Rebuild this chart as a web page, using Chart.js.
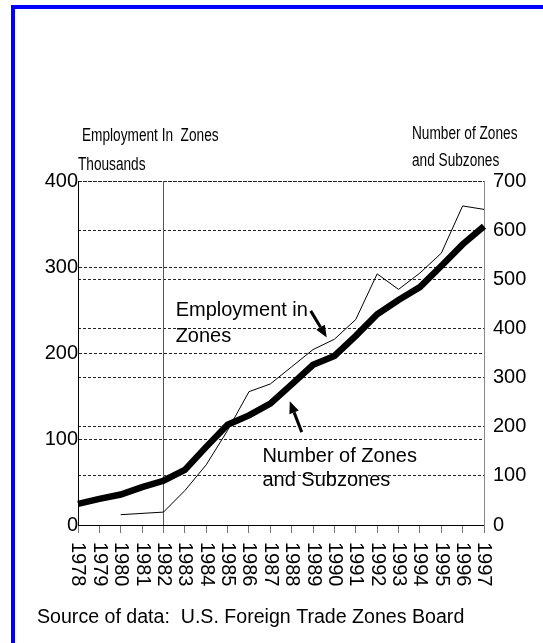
<!DOCTYPE html>
<html>
<head>
<meta charset="utf-8">
<style>
  html, body { margin: 0; padding: 0; background: #fff; overflow: hidden; }
  body { width: 543px; height: 643px; position: relative; }
  #frame { position: absolute; left: 11px; top: 5px; width: 620px; height: 720px;
           border-left: 4px solid #0000ff; border-top: 4px solid #0000ff; }
  #chart { position: absolute; left: 0; top: 0; }
</style>
</head>
<body>
<div id="frame"></div>
<canvas id="chart" width="543" height="643"></canvas>
<script src="https://cdn.jsdelivr.net/npm/chart.js@4/dist/chart.umd.min.js"></script>
<script>
// Data
const years = ['1978', '1979', '1980', '1981', '1982', '1983', '1984', '1985', '1986', '1987',
               '1988', '1989', '1990', '1991', '1992', '1993', '1994', '1995', '1996', '1997'];
// Employment in zones, thousands (left axis)
const employment = [null, null, 12, null, 15, 40, 70, 110, 155, 164,
                    184, 204, 216, 239, 292, 274, 293, 316, 371, 367];
// Number of zones and subzones (right axis)
const zones = [43, 53, 62, 77, 90, 112, 159, 204, 223, 247,
               286, 326, 344, 385, 429, 458, 484, 527, 571, 608];
const leftTicks = [0, 100, 200, 300, 400];
const rightTicks = [0, 100, 200, 300, 400, 500, 600, 700];
const markerYear = '1982';

// annotation text, anchored in (category index, left-axis value)
const notes = [
  { text: 'Employment in', x: 4.57, y: 243 },
  { text: 'Zones', x: 4.57, y: 213 },
  { text: 'Number of Zones', x: 8.63, y: 73 },
  { text: 'and Subzones', x: 8.63, y: 45 }
];
const arrows = [
  { from: [10.89, 249], to: [11.64, 218] },
  { from: [10.47, 108], to: [9.91, 144] }
];

const FONT = '"Liberation Sans", Arial, sans-serif';

function drawArrow(ctx, x1, y1, x2, y2) {
  const ang = Math.atan2(y2 - y1, x2 - x1);
  const head = 12, half = 5;
  const bx = x2 - head * Math.cos(ang), by = y2 - head * Math.sin(ang);
  ctx.lineWidth = 3;
  ctx.beginPath();
  ctx.moveTo(x1, y1);
  ctx.lineTo(bx, by);
  ctx.stroke();
  ctx.beginPath();
  ctx.moveTo(x2, y2);
  ctx.lineTo(bx + half * Math.sin(ang), by - half * Math.cos(ang));
  ctx.lineTo(bx - half * Math.sin(ang), by + half * Math.cos(ang));
  ctx.closePath();
  ctx.fill();
}

function narrowText(ctx, text, x, y) {
  ctx.save();
  ctx.translate(x, y);
  ctx.scale(0.78, 1);
  ctx.fillText(text, 0, 0);
  ctx.restore();
}

const overlay = {
  id: 'overlay',
  beforeDatasetsDraw(chart) {
    const { ctx, chartArea, scales } = chart;
    const x = Math.round(scales.x.getPixelForValue(years.indexOf(markerYear))) + 0.5;
    ctx.save();
    ctx.strokeStyle = '#555';
    ctx.lineWidth = 1;
    ctx.beginPath();
    ctx.moveTo(x, chartArea.top);
    ctx.lineTo(x, chartArea.bottom);
    ctx.stroke();
    ctx.restore();
  },
  afterDraw(chart) {
    const { ctx, chartArea, scales } = chart;
    const xs = scales.x, yl = scales.yL;
    ctx.save();
    ctx.fillStyle = '#000';
    ctx.strokeStyle = '#000';

    // year labels, turned clockwise
    ctx.font = '20px ' + FONT;
    ctx.textAlign = 'left';
    ctx.textBaseline = 'middle';
    xs.ticks.forEach((t, i) => {
      ctx.save();
      ctx.translate(xs.getPixelForTick(i), chartArea.bottom + 17);
      ctx.rotate(Math.PI / 2);
      ctx.fillText(years[i], 0, 0);
      ctx.restore();
    });

    // axis titles
    ctx.textBaseline = 'alphabetic';
    ctx.font = '17.5px ' + FONT;
    narrowText(ctx, 'Employment In  Zones', chartArea.left + 4, chartArea.top - 40);
    narrowText(ctx, 'Thousands', chartArea.left, chartArea.top - 11);
    narrowText(ctx, 'Number of Zones', chartArea.right - 72, chartArea.top - 42);
    narrowText(ctx, 'and Subzones', chartArea.right - 72, chartArea.top - 15);

    // in-plot notes and arrows
    ctx.font = '20px ' + FONT;
    notes.forEach(n => {
      ctx.fillText(n.text, xs.getPixelForValue(n.x), yl.getPixelForValue(n.y));
    });
    arrows.forEach(a => {
      drawArrow(ctx,
        xs.getPixelForValue(a.from[0]), yl.getPixelForValue(a.from[1]),
        xs.getPixelForValue(a.to[0]), yl.getPixelForValue(a.to[1]));
    });

    // source line
    ctx.font = '19.6px ' + FONT;
    ctx.fillText('Source of data:  U.S. Foreign Trade Zones Board', 37, 623);
    ctx.restore();
  }
};

new Chart(document.getElementById('chart'), {
  type: 'line',
  data: {
    labels: years,
    datasets: [{
      label: 'Number of Zones and Subzones',
      data: zones,
      yAxisID: 'yR',
      borderColor: '#000',
      borderWidth: 6.5,
      pointRadius: 0,
      tension: 0,
      fill: false
    }, {
      label: 'Employment in Zones',
      data: employment,
      yAxisID: 'yL',
      borderColor: '#000',
      borderWidth: 1,
      pointRadius: 0,
      tension: 0,
      spanGaps: true,
      fill: false
    }]
  },
  options: {
    responsive: false,
    animation: false,
    layout: { padding: { left: 0, right: 0, top: 181, bottom: 0 } },
    plugins: { legend: { display: false }, tooltip: { enabled: false } },
    scales: {
      x: {
        type: 'category',
        offset: false,
        ticks: { display: false },
        grid: { drawOnChartArea: false, drawTicks: true, tickLength: 8, color: '#777' },
        border: { color: '#000', width: 1 },
        afterFit(scale) { scale.height = 118; }
      },
      yL: {
        position: 'left',
        min: 0,
        max: 400,
        afterBuildTicks(scale) { scale.ticks = leftTicks.map(v => ({ value: v })); },
        ticks: { color: '#000', padding: 0, font: { size: 20, family: FONT } },
        grid: { color: '#222', lineWidth: 1, drawTicks: false },
        border: { color: '#000', width: 1, dash: [3, 2] },
        afterFit(scale) { scale.width = 78; }
      },
      yR: {
        position: 'right',
        min: 0,
        max: 700,
        afterBuildTicks(scale) { scale.ticks = rightTicks.map(v => ({ value: v })); },
        ticks: { color: '#000', padding: 9, font: { size: 20, family: FONT } },
        grid: { color: '#222', lineWidth: 1, drawTicks: false },
        border: { color: '#888', width: 1, dash: [3, 2] },
        afterFit(scale) { scale.width = 59; }
      }
    }
  },
  plugins: [overlay]
});
</script>
</body>
</html>
